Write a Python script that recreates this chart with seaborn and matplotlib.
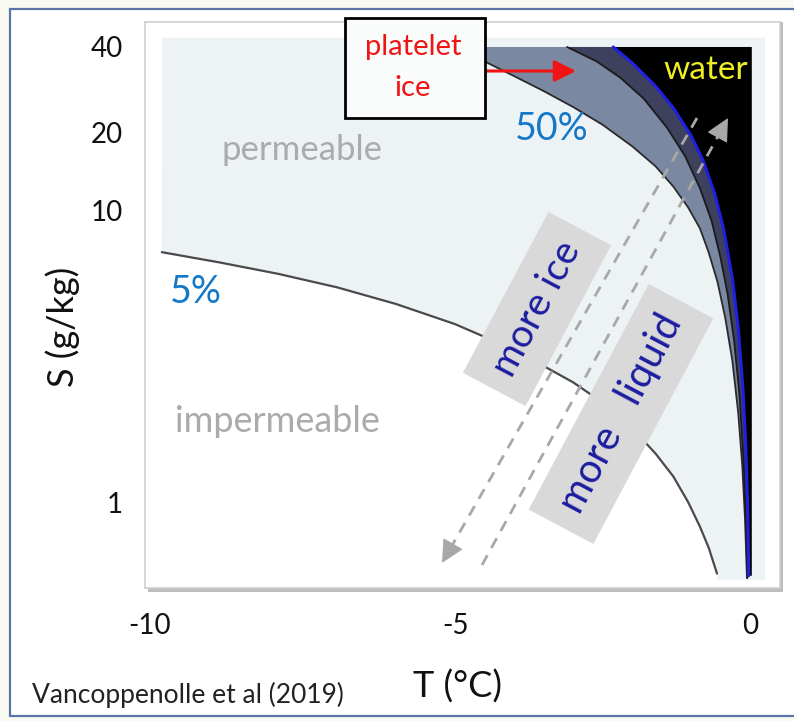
import numpy as np
import pandas as pd
import matplotlib
matplotlib.use("Agg")
import matplotlib.pyplot as plt
import matplotlib.transforms as mtransforms
from matplotlib.patches import Rectangle, Polygon
from matplotlib.lines import Line2D
import seaborn as sns

# Liquid-fraction contours in the (T, S) plane
T_5 = [-9.97, -9.0, -8.0, -7.0, -6.0, -5.0, -4.0, -3.0, -2.5, -2.0, -1.6, -1.3, -1.05, -0.85, -0.7, -0.56]
S_5 = [7.58, 6.98, 6.36, 5.7, 4.98, 4.23, 3.44, 2.64, 2.24, 1.82, 1.48, 1.23, 1.0, 0.82, 0.69, 0.56]

T_50 = [-5.0, -4.5, -4.0, -3.5, -3.0, -2.5, -2.0, -1.6, -1.3, -1.05, -0.85, -0.7, -0.55, -0.42,
        -0.3, -0.2, -0.13, -0.085, -0.052]
S_50 = [40, 35.6, 31.6, 28.0, 24.6, 21.3, 17.9, 15.2, 12.9, 10.9, 9.2, 7.56, 5.94, 4.45,
        3.15, 2.06, 1.33, 0.87, 0.54]

T_70 = [-3.1, -2.6, -2.2, -1.8, -1.4, -1.1, -0.85, -0.65, -0.5, -0.38, -0.27, -0.18, -0.11, -0.07, -0.045]
S_70 = [40, 35.6, 31.2, 26.3, 20.7, 16.5, 12.75, 9.75, 7.25, 5.4, 3.7, 2.4, 1.4, 0.87, 0.54]

# Liquidus (freezing line)
T_liq = [-2.32, -2.0, -1.6, -1.3, -1.0, -0.8, -0.6, -0.45, -0.3, -0.2, -0.12, -0.07, -0.04, -0.022]
S_liq = [40, 35.2, 29.1, 24.4, 19.5, 16.0, 12.2, 9.2, 6.15, 4.1, 2.52, 1.54, 0.96, 0.55]

x_ticks = [-10, -5, 0]
y_ticks = [1, 10, 20, 40]
y_tick_labels = ["1", "10", "20", "40"]

W, H = 794, 721
sns.set_theme(style="white")
plt.rcParams["font.family"] = ["Lato", "DejaVu Sans"]

fig = plt.figure(figsize=(W / 100, H / 100), dpi=100)
fig.patch.set_facecolor("#f9fbf3")


def fx(x):
    return x / W


def fy(y):
    return 1 - y / H


# framed white page
fig.patches.append(Rectangle((fx(10), fy(716)), fx(800) - fx(10), fy(9) - fy(716),
                             transform=fig.transFigure, facecolor="white",
                             edgecolor="#5a75a6", lw=1.6, zorder=-2))
# panel shadow
fig.patches.append(Rectangle((fx(148), fy(592)), fx(635), fy(22) - fy(592),
                             transform=fig.transFigure, facecolor="#bdbdbd",
                             edgecolor="none", zorder=-1))

ax = fig.add_axes([fx(145), fy(588), fx(635), fy(22) - fy(588)])
ax.set_facecolor("white")
ax.set_yscale("log")
ax.set_xlim(-10.254, 0.508)
ax.set_ylim(0.498, 48.98)

T_lo, T_hi, S_lo, S_hi = -9.966, 0.254, 0.531, 43.1
df5 = pd.DataFrame({"T": T_5, "S": S_5})

# permeable region: everything above the 5 % contour
perm = ([(T_lo, S_hi), (T_hi, S_hi), (T_hi, S_lo), (T_5[-1], S_lo)]
        + list(zip(T_5[::-1], S_5[::-1])))
ax.add_patch(Polygon(perm, closed=True, facecolor="#edf2f5", edgecolor="none", zorder=1))

# bands between contours
band50 = list(zip(T_50, S_50)) + list(zip(T_70[::-1], S_70[::-1]))
ax.add_patch(Polygon(band50, closed=True, facecolor="#7b88a1", edgecolor="none", zorder=2))
band70 = list(zip(T_70, S_70)) + list(zip(T_liq[::-1], S_liq[::-1]))
ax.add_patch(Polygon(band70, closed=True, facecolor="#3e415e", edgecolor="none", zorder=2))
water = list(zip(T_liq, S_liq)) + [(0.03, S_liq[-1]), (0.03, S_liq[0])]
ax.add_patch(Polygon(water, closed=True, facecolor="black", edgecolor="none", zorder=2))

sns.lineplot(data=df5, x="T", y="S", sort=False, estimator=None, ax=ax,
             color="#4a4a4a", lw=1.6, zorder=3)
sns.lineplot(x=T_50, y=S_50, sort=False, estimator=None, ax=ax,
             color="#2a2a2a", lw=1.3, zorder=3)
sns.lineplot(x=T_70, y=S_70, sort=False, estimator=None, ax=ax,
             color="#1a1a1a", lw=1.3, zorder=3)
sns.lineplot(x=T_liq, y=S_liq, sort=False, estimator=None, ax=ax,
             color="#2020e0", lw=2.2, zorder=4)

ax.set_xticks(x_ticks)
ax.set_xticklabels([str(v) for v in x_ticks])
ax.set_yticks(y_ticks)
ax.set_yticklabels(y_tick_labels)
ax.minorticks_off()
ax.tick_params(axis="both", length=0, labelsize=20, colors="#111111")
ax.tick_params(axis="y", pad=16)
ax.tick_params(axis="x", pad=18)
ax.set_xlabel("")
ax.set_ylabel("")
for side, sp in ax.spines.items():
    sp.set_color("#cfcfcf")
    sp.set_linewidth(1.2)

# small hand offsets of two tick labels
fig.canvas.draw()
xl = ax.get_xticklabels()[0]
xl.set_transform(xl.get_transform() + mtransforms.ScaledTranslation(-10 / 100, 0, fig.dpi_scale_trans))
yl = ax.get_yticklabels()[1]
yl.set_transform(yl.get_transform() + mtransforms.ScaledTranslation(0, 7 / 100, fig.dpi_scale_trans))

# axis titles and source
fig.text(fx(458), fy(687), "T (°C)", ha="center", va="center", fontsize=26, color="#111111")
fig.text(fx(63), fy(327), "S (g/kg)", ha="center", va="center", rotation=90,
         fontsize=26, color="#111111")
fig.text(fx(32), fy(695), "Vancoppenolle et al (2019)", ha="left", va="center",
         fontsize=19, color="#222222")

# region labels
fig.text(fx(302), fy(150), "permeable", ha="center", va="center", fontsize=25, color="#ababab")
fig.text(fx(277), fy(421), "impermeable", ha="center", va="center", fontsize=26, color="#ababab")
fig.text(fx(196), fy(292), "5%", ha="center", va="center", fontsize=27, color="#1478c8")
fig.text(fx(552), fy(129), "50%", ha="center", va="center", fontsize=27, color="#1478c8")
fig.text(fx(706), fy(70), "water", ha="center", va="center", fontsize=24, color="#eeee22",
         zorder=6)

# platelet ice call-out
fig.patches.append(Rectangle((fx(345), fy(118)), fx(140), fy(18) - fy(118),
                             transform=fig.transFigure, facecolor="#fafcfc",
                             edgecolor="black", lw=2, zorder=5))
fig.text(fx(413), fy(47), "platelet", ha="center", va="center", fontsize=21,
         color="#f01414", zorder=6)
fig.text(fx(413), fy(88), "ice", ha="center", va="center", fontsize=21,
         color="#f01414", zorder=6)
ax.annotate("", xy=(fx(576), fy(71)), xytext=(fx(487), fy(71)),
            xycoords="figure fraction", textcoords="figure fraction",
            arrowprops=dict(arrowstyle="-|>,head_length=1.1,head_width=0.55",
                            color="#f01414", lw=2.2, shrinkA=0, shrinkB=0),
            zorder=6)


# dashed direction arrows
def dashed_arrow(x0, y0, x1, y1):
    d = np.hypot(x1 - x0, y1 - y0)
    ux, uy = (x1 - x0) / d, (y1 - y0) / d
    xb, yb = x1 - ux * 16, y1 - uy * 16
    fig.lines.append(Line2D([fx(x0), fx(xb)], [fy(y0), fy(yb)], transform=fig.transFigure,
                            color="#a8a8a8", lw=2, linestyle=(0, (4, 3)), zorder=4))
    ax.annotate("", xy=(fx(x1), fy(y1)), xytext=(fx(xb - ux * 2), fy(yb - uy * 2)),
                xycoords="figure fraction", textcoords="figure fraction",
                arrowprops=dict(arrowstyle="-|>,head_length=1.2,head_width=0.6",
                                color="#a8a8a8", lw=1, shrinkA=0, shrinkB=0), zorder=4)


dashed_arrow(697, 118, 442, 563)
dashed_arrow(482, 565, 728, 118)

box = dict(boxstyle="square,pad=0.45", facecolor="#d9d9d9", edgecolor="none")
fig.text(fx(537), fy(309), "more ice", ha="center", va="center", rotation=62,
         rotation_mode="anchor", fontsize=28, color="#1c1ca0", bbox=box, zorder=5)
fig.text(fx(621), fy(414), "more   liquid", ha="center", va="center", rotation=62,
         rotation_mode="anchor", fontsize=29, color="#1c1ca0", bbox=box, zorder=5)

fig.savefig("out.png", dpi=100, facecolor=fig.get_facecolor())
